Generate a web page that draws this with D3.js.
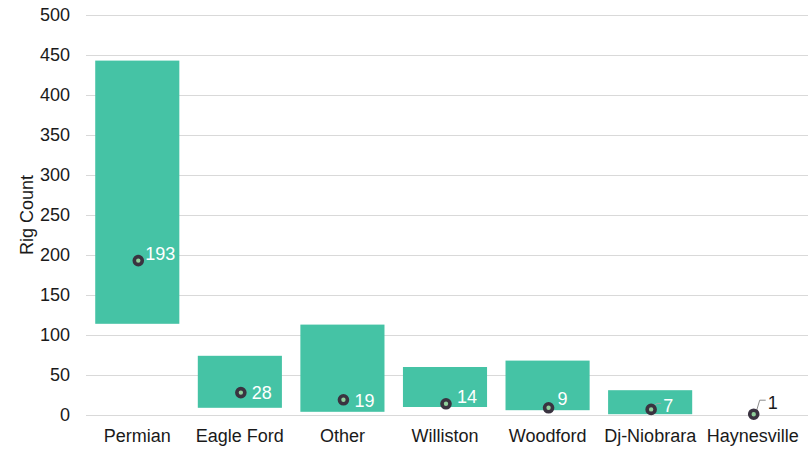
<!DOCTYPE html>
<html><head><meta charset="utf-8">
<script src="https://cdn.jsdelivr.net/npm/d3@7"></script>
<style>
body{margin:0;background:#fff;}
text{font-family:"Liberation Sans",Arial,sans-serif;}
</style></head>
<body><svg id="c" width="808" height="449"></svg>
<script>
const categories = ["Permian","Eagle Ford","Other","Williston","Woodford","Dj-Niobrara","Haynesville"];
const rangeLow  = [114, 9, 4, 10, 6, 1, 0];
const rangeHigh = [443, 74, 113, 60, 68, 31, 0];
const current   = [193, 28, 19, 14, 9, 7, 1];
const yTicks = [0,50,100,150,200,250,300,350,400,450,500];

const svg = d3.select("#c");
const m = {l:86, r:4, t:15, b:34};
const W = 808, H = 449;
const FS = 18;
const x = d3.scaleBand().domain(categories).range([m.l, W-m.r]).paddingInner(0.18).paddingOuter(0.09);
const y = d3.scaleLinear().domain([0,500]).range([H-m.b, m.t]);

// gridlines
svg.append("g").selectAll("line").data(yTicks).join("line")
  .attr("x1", m.l).attr("x2", W).attr("y1", d=>y(d)+0.5).attr("y2", d=>y(d)+0.5)
  .attr("stroke","#d9d9d9").attr("stroke-width",1);

// y axis
const ya = svg.append("g").attr("transform",`translate(${m.l},0)`)
  .call(d3.axisLeft(y).tickValues(yTicks).tickSize(0).tickPadding(16));
ya.select(".domain").remove();
ya.selectAll("text").attr("font-size",FS).attr("fill","#1a1a1a").attr("font-family","Liberation Sans, Arial, sans-serif");

// x axis
const xa = svg.append("g").attr("transform",`translate(0,${H-m.b})`)
  .call(d3.axisBottom(x).tickSize(0).tickPadding(14));
xa.select(".domain").remove();
xa.selectAll("text").attr("font-size",FS).attr("fill","#1a1a1a").attr("font-family","Liberation Sans, Arial, sans-serif");

// y label
svg.append("text").attr("transform",`translate(33,${(m.t+H-m.b)/2}) rotate(-90)`)
  .attr("text-anchor","middle").attr("font-size",FS).attr("fill","#1a1a1a").text("Rig Count");

// bars
svg.append("g").selectAll("rect").data(categories).join("rect")
  .attr("x", d=>x(d)).attr("width", x.bandwidth())
  .attr("y", (d,i)=>y(rangeHigh[i])).attr("height", (d,i)=>y(rangeLow[i])-y(rangeHigh[i]))
  .attr("fill","#45c3a5");

// label offsets (layout)
const labelDx = {"Permian":7,"Eagle Ford":11,"Other":11,"Williston":11,"Woodford":9,"Dj-Niobrara":12,"Haynesville":14};
const labelDy = {"Permian":-7,"Eagle Ford":0,"Other":1,"Williston":-7,"Woodford":-9,"Dj-Niobrara":-4,"Haynesville":-12};
const leader = {"Dj-Niobrara":true,"Haynesville":true};

const g = svg.append("g");
categories.forEach((c,i)=>{
  const cx = x(c)+x.bandwidth()/2+1, cy = y(current[i]);
  const lx = cx + labelDx[c];
  const ly = cy + labelDy[c];
  if (leader[c]) {
    g.append("path").attr("d", `M${cx+3},${cy-4} L${cx+6},${ly-2} L${lx-2},${ly-2}`)
      .attr("fill","none").attr("stroke", c==="Haynesville" ? "#8c8c8c" : "#9fa8a4").attr("stroke-width",1);
  }
  g.append("circle").attr("cx",cx).attr("cy",cy).attr("r",4)
    .attr("fill","#8fcf9a").attr("stroke","#3a3340").attr("stroke-width",3.6);
  g.append("text").attr("x",lx).attr("y",ly).attr("dy","0.35em")
    .attr("font-size",FS).attr("fill", c==="Haynesville" ? "#1a1a1a" : "#ffffff").text(current[i]);
});
</script></body></html>
